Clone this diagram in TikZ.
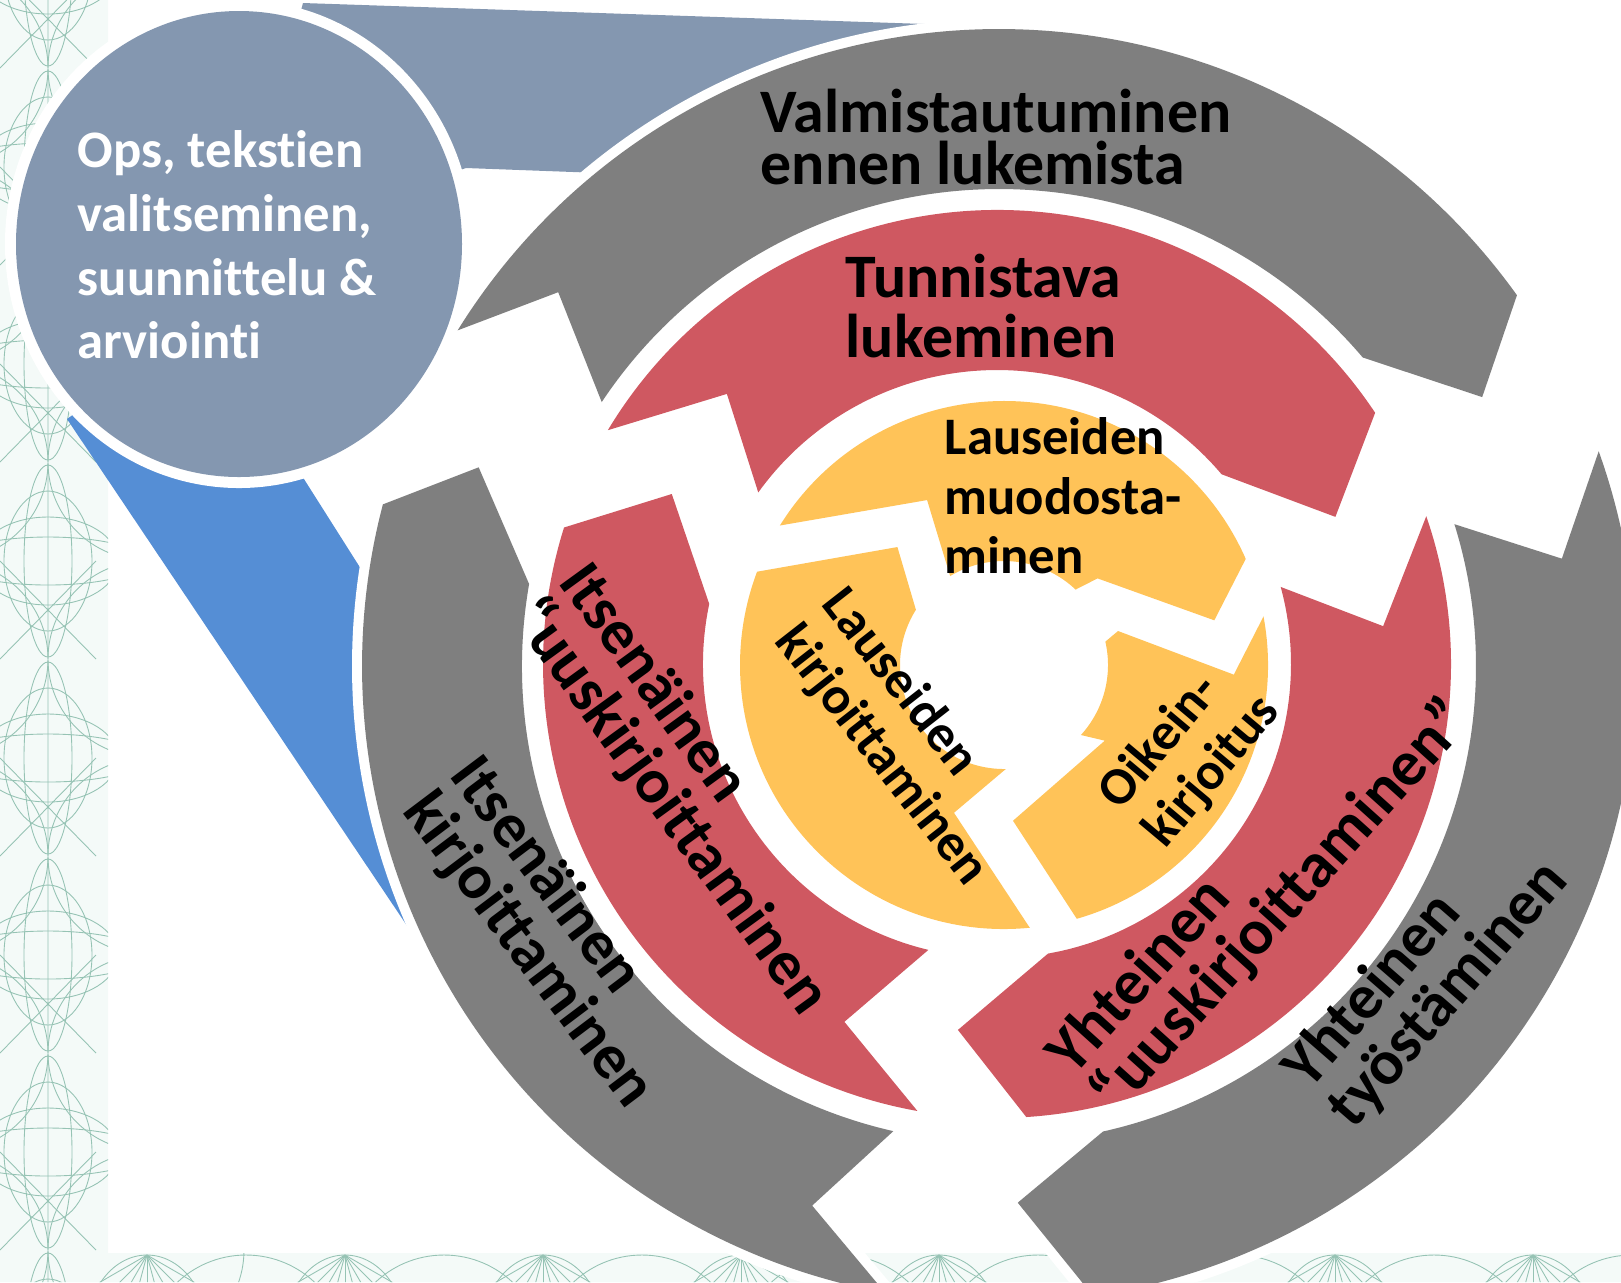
\documentclass[tikz,border=0pt]{standalone}
\usepackage{fontspec}
\setmainfont{Carlito}[Ligatures=NoCommon]
\usepackage{tikz}
\definecolor{CycleColorGray}{RGB}{127,127,127}
\definecolor{CycleColorRed}{RGB}{207,88,97}
\definecolor{CycleColorYellow}{RGB}{255,195,88}
\definecolor{CycleColorSlate}{RGB}{132,151,176}
\definecolor{CycleColorBlue}{RGB}{85,142,213}
\definecolor{CyclePattern}{RGB}{150,195,180}
\definecolor{CyclePaper}{RGB}{244,250,248}

\begin{document}
\begin{tikzpicture}[x=0.1mm,y=-0.1mm,
  lbl/.style n args={3}{font=\fontsize{#1}{#2}\selectfont\bfseries,align=left,anchor=west,inner sep=0pt,rotate=#3},
  halo/.style={preaction={draw=white,line width=5.7pt,line join=round}},
  ornament/.style={CyclePattern,line width=0.25pt}]
\useasboundingbox (0,0) rectangle (1621,1282);
\clip (0,0) rectangle (1621,1282);

\fill[CyclePaper] (0,0) rectangle (108,1282) (0,1253) rectangle (1621,1282);
\begin{scope}
\clip (0,0) rectangle (108,1282) (0,1253) rectangle (1621,1282);
\foreach \y in {-30,167,...,1350} {
   \draw[ornament] (48,\y) ellipse[x radius=24,y radius=96] (48,\y) ellipse[x radius=96,y radius=24];
   \draw[ornament] (48,\y) ellipse[x radius=44,y radius=70] (48,\y) ellipse[x radius=70,y radius=44];
   \draw[ornament] (-50,\y+98) circle (98) (146,\y+98) circle (98);
   \draw[ornament] (0,\y) -- (96,\y+98) (96,\y) -- (0,\y+98) (48,\y-98) -- (48,\y+98);
}
\foreach \x in {147,345,...,1800} {
   \foreach \a in {-60,-45,...,60} {
      \draw[ornament] (\x,1255) -- ++({90*sin(\a)},{90*cos(\a)});
   }
   \draw[ornament] (\x+99,1355) circle (100) (\x,1330) ellipse[x radius=60,y radius=75];
}
\end{scope}

\fill[CycleColorSlate] (239,243) -- (303,3) -- (925,24) -- (760,110) -- (600,173) -- (466,168) -- cycle;
\fill[CycleColorBlue] (150,360) -- (67,419) -- (430,960) -- (444,700) -- (297,468) -- cycle;
\fill[white] (239,244) ellipse[x radius=234,y radius=244];
\fill[CycleColorSlate] (239,244) ellipse[x radius=223,y radius=233];

\begin{scope}[shift={(999,666)},yscale=-1]
\foreach \to/\ti/\tn/\rn/\ho/\hi/\ht/\rt in %
{148.2/146.4/139.7/578/35.6/40.3/29.1/553,19.7/17.3/10.8/573/-81.5/-77.4/-88/537,259.7/257.2/250.9/571/165.3/170.1/159.1/557} {
   \fill[CycleColorGray,halo] (\to:637) arc[start angle=\to,end angle=\ho,radius=637] -- (\ht:\rt)
      -- (\hi:477) arc[start angle=\hi,end angle=\ti,radius=477] -- (\tn:\rn) -- cycle;
}
\end{scope}

\begin{scope}[shift={(997,664)},yscale=-1]
\foreach \to/\ti/\tn/\rn/\ho/\hi/\ht/\rt in %
{149/144.3/135/382/33.6/40.2/23.5/369,19/15.2/5.6/388/-86.3/-80/-96.1/368,259.9/256.5/246.9/389/162.5/168.2/152.4/367} {
   \fill[CycleColorRed] (\to:454) arc[start angle=\to,end angle=\ho,radius=454] -- (\ht:\rt)
      -- (\hi:294) arc[start angle=\hi,end angle=\ti,radius=294] -- (\tn:\rn) -- cycle;
}
\end{scope}

\begin{scope}[shift={(1004,665)},yscale=-1]
\foreach \to/\ti/\tc/\tr/\tn/\rn/\ho/\hi/\hc/\hr/\ht/\rt in %
{148.1/121.2/121.2/104/115/182/23.7/46.5/42.8/127.5/12/215,10.6/13/16.6/119/-2.4/230/-74/-42.3/-36.9/126/-86.7/156,275.6/271/271/104/251.3/156/159.3/147.9/147.9/104/132.1/159} {
   \fill[CycleColorYellow] (\to:264) arc[start angle=\to,end angle=\ho,radius=264] -- (\ht:\rt) -- (\hc:\hr)
      -- (\hi:104) arc[start angle=\hi,end angle=\ti,radius=104] -- (\tc:\tr) -- (\tn:\rn) -- cycle;
}
\end{scope}

\node[lbl={15pt}{18.1pt}{0},text=white] (ops) at (77,245) {Ops, tekstien\\valitseminen,\\suunnittelu \&\\arviointi};
\node[lbl={17.6pt}{14.8pt}{0}] (prep) at (760,137) {Valmistautuminen\\ennen lukemista};
\node[lbl={17.6pt}{16.8pt}{0}] (recog) at (845,306) {Tunnistava\\lukeminen};
\node[lbl={15pt}{16.9pt}{0}] (form) at (944,496) {Lauseiden\\muodosta-\\minen};
\node[lbl={18pt}{16.8pt}{-53}] (indep) at (438,783) {Itsenäinen\\kirjoittaminen};
\node[lbl={18pt}{16.8pt}{-54}] (indrew) at (547,589) {Itsenäinen\\“uuskirjoittaminen};
\node[lbl={15pt}{16.9pt}{-52}] (sentw) at (808,614) {Lauseiden\\kirjoittaminen};
\node[lbl={15pt}{16.9pt}{50}] (spell) at (1132,822) {Oikein-\\kirjoitus};
\node[lbl={18.3pt}{16.8pt}{48}] (jointrew) at (1082,1086) {Yhteinen\\“uuskirjoittaminen”};
\node[lbl={18pt}{16.8pt}{49}] (jointw) at (1318,1100) {Yhteinen\\työstäminen};
\end{tikzpicture}
\end{document}
